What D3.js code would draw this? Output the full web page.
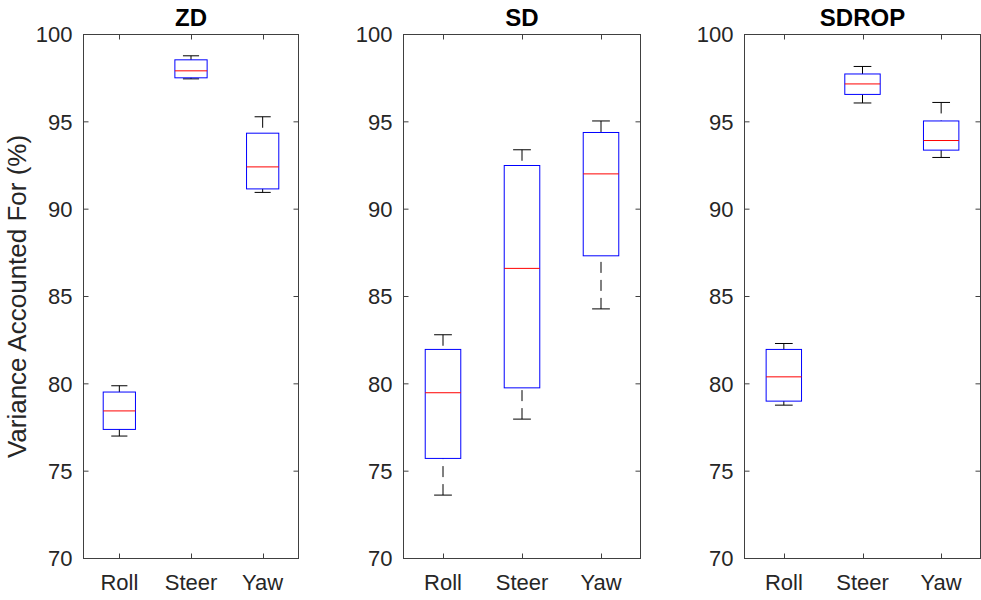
<!DOCTYPE html>
<html>
<head>
<meta charset="utf-8">
<script src="https://cdn.jsdelivr.net/npm/d3@7"></script>
<style>
  html, body { margin: 0; padding: 0; background: #fff; }
  svg { display: block; }
  text { font-family: "Liberation Sans", Arial, Helvetica, sans-serif; }
</style>
</head>
<body>
<svg id="chart" width="981" height="600"></svg>
<script>
// ---- data ----
const categories = ["Roll", "Steer", "Yaw"];
const panelTitles = ["ZD", "SD", "SDROP"];
const yTicks = [70, 75, 80, 85, 90, 95, 100];
const yLabel = "Variance Accounted For (%)";
// each row: [lower whisker, Q1, median, Q3, upper whisker] for Roll, Steer, Yaw
const zdStats = [
  [77.01, 77.39, 78.45, 79.53, 79.89],
  [97.46, 97.52, 97.92, 98.55, 98.78],
  [90.96, 91.16, 92.42, 94.35, 95.29]
];
const sdStats = [
  [73.63, 75.73, 79.49, 81.97, 82.81],
  [77.98, 79.77, 86.61, 92.50, 93.40],
  [84.29, 87.33, 92.02, 94.39, 95.05]
];
const sdropStats = [
  [78.78, 79.01, 80.40, 81.97, 82.31],
  [96.08, 96.57, 97.17, 97.74, 98.17],
  [92.96, 93.38, 93.93, 95.05, 96.11]
];
const allStats = [zdStats, sdStats, sdropStats];

// ---- layout ----
const svg = d3.select("#chart");
const plotTop = 34.5, plotBottom = 558.5;
const panelX = [[83.5, 298.5], [403.5, 640.5], [744.5, 980.5]];
const axisColor = "#404040";
const textColor = "#262626";
const tickLen = 5;

const y = d3.scaleLinear().domain([70, 100]).range([plotBottom, plotTop]);

allStats.forEach((stats, pi) => {
  const [x0, x1] = panelX[pi];
  const x = d3.scaleLinear().domain([0.5, 3.5]).range([x0, x1]);
  const unit = x(2) - x(1);
  const g = svg.append("g");

  stats.forEach((s, ci) => {
    const cx = x(ci + 1);
    const bw = unit * 0.225;
    const cw = unit * 0.1125;
    const [lo, q1, med, q3, hi] = s;
    g.append("line").attr("x1", cx).attr("x2", cx)
      .attr("y1", y(hi)).attr("y2", y(q3))
      .attr("stroke", "#000").attr("stroke-width", 1)
      .attr("stroke-dasharray", "11,7");
    g.append("line").attr("x1", cx).attr("x2", cx)
      .attr("y1", y(lo)).attr("y2", y(q1))
      .attr("stroke", "#000").attr("stroke-width", 1)
      .attr("stroke-dasharray", "11,7");
    [lo, hi].forEach(v => {
      g.append("line").attr("x1", cx - cw).attr("x2", cx + cw)
        .attr("y1", y(v)).attr("y2", y(v))
        .attr("stroke", "#000").attr("stroke-width", 1);
    });
    g.append("rect").attr("x", cx - bw).attr("y", y(q3))
      .attr("width", 2 * bw).attr("height", y(q1) - y(q3))
      .attr("fill", "none").attr("stroke", "#0000ff").attr("stroke-width", 1);
    g.append("line").attr("x1", cx - bw).attr("x2", cx + bw)
      .attr("y1", y(med)).attr("y2", y(med))
      .attr("stroke", "#ff0000").attr("stroke-width", 1);
  });

  g.append("rect").attr("x", x0).attr("y", plotTop)
    .attr("width", x1 - x0).attr("height", plotBottom - plotTop)
    .attr("fill", "none").attr("stroke", axisColor).attr("stroke-width", 1);

  yTicks.forEach(t => {
    const yy = y(t);
    g.append("line").attr("x1", x0).attr("x2", x0 + tickLen)
      .attr("y1", yy).attr("y2", yy).attr("stroke", axisColor);
    g.append("line").attr("x1", x1).attr("x2", x1 - tickLen)
      .attr("y1", yy).attr("y2", yy).attr("stroke", axisColor);
    g.append("text").attr("x", x0 - 11).attr("y", yy)
      .attr("dy", "0.36em").attr("text-anchor", "end")
      .attr("font-size", 22).attr("fill", textColor).text(t);
  });

  categories.forEach((c, ci) => {
    const xx = Math.round(x(ci + 1)) + 0.5;
    g.append("line").attr("x1", xx).attr("x2", xx)
      .attr("y1", plotBottom).attr("y2", plotBottom - tickLen).attr("stroke", axisColor);
    g.append("line").attr("x1", xx).attr("x2", xx)
      .attr("y1", plotTop).attr("y2", plotTop + tickLen).attr("stroke", axisColor);
    g.append("text").attr("x", x(ci + 1)).attr("y", 590)
      .attr("text-anchor", "middle").attr("font-size", 22)
      .attr("fill", textColor).text(c);
  });

  g.append("text").attr("x", (x0 + x1) / 2).attr("y", 26)
    .attr("text-anchor", "middle").attr("font-size", 24)
    .attr("font-weight", "bold").attr("fill", "#000").text(panelTitles[pi]);
});

svg.append("text")
  .attr("transform", `translate(26, ${(plotTop + plotBottom) / 2}) rotate(-90)`)
  .attr("text-anchor", "middle").attr("font-size", 26)
  .attr("fill", textColor).text(yLabel);
</script>
</body>
</html>
